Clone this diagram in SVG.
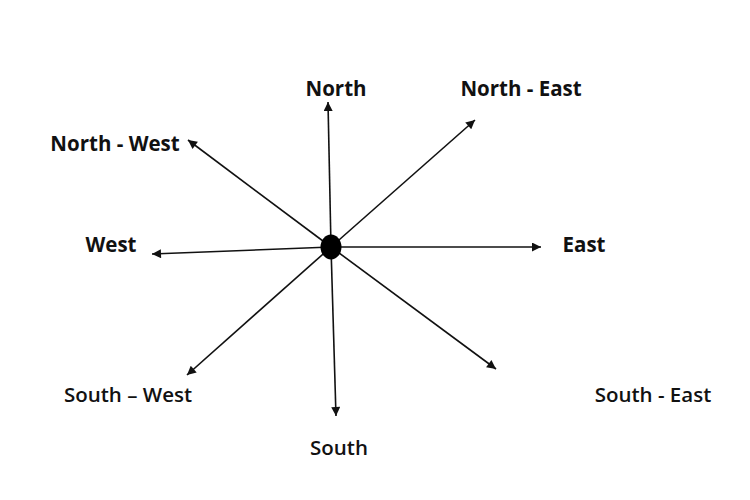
<svg xmlns="http://www.w3.org/2000/svg" width="750" height="500" viewBox="0 0 750 500">
<style>
.lbl{font-family:"Open Sans","Liberation Sans",sans-serif;font-weight:bold;font-size:20.5px;fill:#111;text-anchor:middle}
.semi{font-weight:600}
.ray{stroke:#111;stroke-width:1.6;fill:none;marker-end:url(#ah)}
</style>
<defs>
<marker id="ah" viewBox="0 0 10 10" refX="10" refY="5" markerWidth="11" markerHeight="9" markerUnits="userSpaceOnUse" orient="auto">
<path d="M0,0 L10,5 L0,10 Z" fill="#111"/>
</marker>
</defs>
<rect width="750" height="500" fill="#fff"/>
<g id="connectors">
<line class="ray" x1="331" y1="247" x2="328" y2="102"/>
<line class="ray" x1="331" y1="247" x2="475" y2="120"/>
<line class="ray" x1="331" y1="247" x2="188" y2="140"/>
<line class="ray" x1="331" y1="247" x2="152" y2="254"/>
<line class="ray" x1="331" y1="247" x2="541" y2="247"/>
<line class="ray" x1="331" y1="247" x2="496" y2="369"/>
<line class="ray" x1="331" y1="247" x2="336" y2="416"/>
<line class="ray" x1="331" y1="247" x2="187" y2="375"/>
</g>
<g id="center"><ellipse cx="331" cy="247" rx="10.5" ry="12.5" fill="#000"/></g>
<g id="north"><text class="lbl" x="336" y="96">North</text></g>
<g id="north-east"><text class="lbl" x="521" y="96">North - East</text></g>
<g id="north-west"><text class="lbl" x="115" y="151">North - West</text></g>
<g id="west"><text class="lbl" x="111" y="252">West</text></g>
<g id="east"><text class="lbl" x="584" y="252">East</text></g>
<g id="south-west"><text class="lbl semi" x="128" y="402">South – West</text></g>
<g id="south-east"><text class="lbl semi" x="653" y="402">South - East</text></g>
<g id="south"><text class="lbl semi" x="339" y="455">South</text></g>
</svg>
